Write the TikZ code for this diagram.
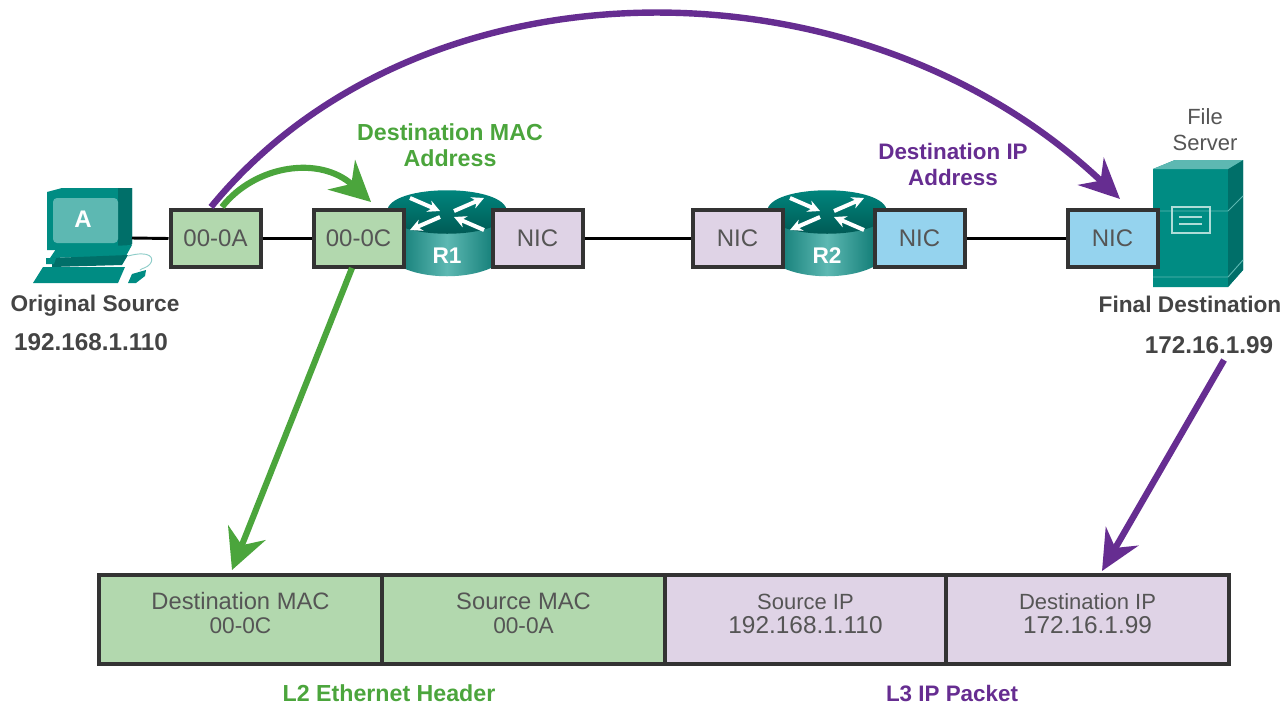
\documentclass[tikz,border=0pt]{standalone}
\usepackage{fontspec}
\setmainfont{Liberation Sans}
\usetikzlibrary{arrows.meta}
\definecolor{grn}{HTML}{4BA53C}
\definecolor{pur}{HTML}{662D91}
\definecolor{lgreen}{HTML}{B2D8AE}
\definecolor{lpur}{HTML}{DFD3E6}
\definecolor{lblue}{HTML}{95D3EE}
\definecolor{teal1}{HTML}{008C83}
\definecolor{teal2}{HTML}{006F69}
\definecolor{teal3}{HTML}{5DB8B2}
\definecolor{edge}{HTML}{333333}
\definecolor{txt}{HTML}{555555}
\definecolor{btxt}{HTML}{444444}
\newcommand{\cellline}[2]{\raisebox{-1.5pt}[0pt][0pt]{\fontsize{#1}{18.5}\selectfont #2}}
\tikzset{
  x=0.75pt,y=-0.75pt,
  boxn/.style={draw=edge,line width=3pt,minimum width=67.5pt,minimum height=42.75pt,inner sep=0pt,text=txt,font=\fontsize{18}{20}\selectfont},
  cell/.style={draw=edge,line width=3pt,minimum height=67pt,inner sep=0pt,text=txt,align=center,font=\fontsize{16.5}{18.5}\selectfont},
  blab/.style={font=\bfseries\fontsize{17}{19}\selectfont,text=btxt,inner sep=0pt},
  nlab/.style={font=\bfseries\fontsize{18.2}{19}\selectfont,text=btxt,inner sep=0pt},
  glab/.style={font=\bfseries\fontsize{17.4}{19.5}\selectfont,text=grn,inner sep=0pt,align=center},
  plab/.style={font=\bfseries\fontsize{16.8}{19.5}\selectfont,text=pur,inner sep=0pt,align=center},
  link/.style={line width=2.2pt,black},
  garrow/.style={draw=grn,line width=4.6pt,-{Stealth[length=30pt,width=30pt,inset=10pt]}},
  parrow/.style={draw=pur,line width=4.8pt,-{Stealth[length=30pt,width=28pt,inset=10pt]}},
}
\newcommand{\routericon}[2]{%
  \begin{scope}[shift={(#1,0)}]
    \path[left color=teal2,right color=teal2,middle color=teal3] (-60,212) -- (-60,256) .. controls (-40,283) and (40,283) .. (60,256) -- (60,212) -- cycle;
    \path[top color=teal1,bottom color=teal2!75!black] (-60,212) .. controls (-60,183) and (60,183) .. (60,212) .. controls (60,241) and (-60,241) .. (-60,212) -- cycle;
    \draw[white,line width=3pt,-{Stealth[length=9pt,width=9pt]}] (-37,198) -- (-7,211);
    \draw[white,line width=3pt,-{Stealth[length=9pt,width=9pt]}] (7,211) -- (37,198);
    \draw[white,line width=3pt,-{Stealth[length=9pt,width=9pt]}] (-7,217) -- (-37,230);
    \draw[white,line width=3pt,-{Stealth[length=9pt,width=9pt]}] (37,230) -- (7,217);
    \node[white,font=\bfseries\fontsize{17}{20}\selectfont,inner sep=0pt] at (0,256) {#2};
  \end{scope}}
\begin{document}
\begin{tikzpicture}
\useasboundingbox (0,0) rectangle (1284,704);
\fill[white] (0,0) rectangle (1284,704);

% PC
\fill[teal1] (47,192) -- (62,188) -- (132,188) -- (132,244) -- (125,250) -- (47,250) -- cycle;
\fill[teal2] (118,188) -- (132,188) -- (132,244) -- (125,250) -- (118,250) -- cycle;
\fill[teal3,rounded corners=3pt] (53,198) rectangle (118,243);
\node[white,font=\bfseries\fontsize{18}{20}\selectfont,inner sep=0pt] (pclabel) at (83,219) {A};
\fill[teal1] (56,249) -- (132,245) -- (126,256) -- (50,258) -- cycle;
\fill[teal2] (52,258) -- (128,255) -- (122,265) -- (52,267) -- cycle;
\fill[teal1] (46,258) -- (56,258) -- (54,264) -- (46,264) -- cycle;
\fill[teal1] (43,267) -- (125,267) -- (118,283) -- (33,283) -- cycle;
\fill[teal1] (128,283) -- (132,274) -- (146,270) -- (145,276) -- (136,283) -- cycle;
\draw[teal3!70,line width=0.7pt] (128,256) .. controls (150,250) and (155,258) .. (150,264) .. controls (147,268) and (142,268) .. (140,270);
\coordinate (pc) at (132,238);

% Routers
\routericon{447}{R1}
\routericon{827}{R2}

% Server
\fill[teal1] (1153,169) -- (1175,160) -- (1243,160) -- (1243,270) -- (1228,287) -- (1153,287) -- cycle;
\fill[teal2] (1228,169) -- (1243,160) -- (1243,270) -- (1228,287) -- cycle;
\fill[teal3] (1153,169) -- (1175,160) -- (1243,160) -- (1228,169) -- cycle;
\draw[teal3,line width=0.7pt] (1153,211) -- (1228,211) -- (1243,196);
\draw[teal3,line width=0.7pt] (1153,277) -- (1228,277) -- (1243,260);
\draw[teal3!50!white,line width=1pt] (1172,207) rectangle (1210,233);
\draw[teal3!50!white,line width=1pt] (1179,217) -- (1202,217) (1179,224) -- (1202,224);

% Boxes
\node[boxn,fill=lgreen] (m0a) at (215.5,238.5) {00-0A};
\node[boxn,fill=lgreen] (m0c) at (358.5,238.5) {00-0C};
\node[boxn,fill=lpur]   (n1)  at (537.5,238.5) {NIC};
\node[boxn,fill=lpur]   (n2)  at (737.5,238.5) {NIC};
\node[boxn,fill=lblue]  (n3)  at (919.5,238.5) {NIC};
\node[boxn,fill=lblue]  (n4)  at (1112.5,238.5) {NIC};

% Links
\draw[link] (pc) -- (m0a.west);
\draw[link] (m0a.east) -- (m0c.west);
\draw[link] (n1.east) -- (n2.west);
\draw[link] (n3.east) -- (n4.west);

% Table
\node[cell,fill=lgreen,minimum width=212pt] (c1) at (240.5,619.5) {\cellline{17.8}{Destination MAC}\\\cellline{17}{00-0C}};
\node[cell,fill=lgreen,minimum width=212pt] (c2) at (523.5,619.5) {\cellline{17.8}{Source MAC}\\\cellline{17}{00-0A}};
\node[cell,fill=lpur,minimum width=211pt] (c3) at (805.5,619.5) {\cellline{16.5}{Source IP}\\\cellline{18.3}{192.168.1.110}};
\node[cell,fill=lpur,minimum width=212pt] (c4) at (1087.5,619.5) {\cellline{16.5}{Destination IP}\\\cellline{18.3}{172.16.1.99}};

% Labels
\node[blab] (os) at (95,306) {Original Source};
\node[nlab] (oi) at (91,342) {192.168.1.110};
\node[blab] (fd) at (1190,304) {Final Destination};
\node[nlab] (fi) at (1209,345) {172.16.1.99};
\node[text=txt,align=center,font=\fontsize{16.5}{19.5}\selectfont,inner sep=0pt] (fs) at (1205,130) {File\\Server};
\node[glab] (dm) at (450,145) {Destination MAC\\Address};
\node[plab] (di) at (953,164) {Destination IP\\Address};
\node[glab] (l2) at (389,693) {L2 Ethernet Header};
\node[plab] (l3) at (952,693) {L3 IP Packet};

% Arrows
\coordinate (ge) at (371,202);
\coordinate (pe) at (1120,199);
\coordinate (gs) at (352,268);
\coordinate (gt) at (232,570);
\coordinate (ps) at (1224,360);
\coordinate (pt) at (1102,571);
\draw[garrow] (222,207) .. controls (255,165) and (320,155) .. (ge);
\draw[parrow] (211,207) .. controls (420,-48) and (860,-48) .. (pe);
\draw[garrow] (gs) -- (gt);
\draw[parrow] (ps) -- (pt);
\end{tikzpicture}
\end{document}
